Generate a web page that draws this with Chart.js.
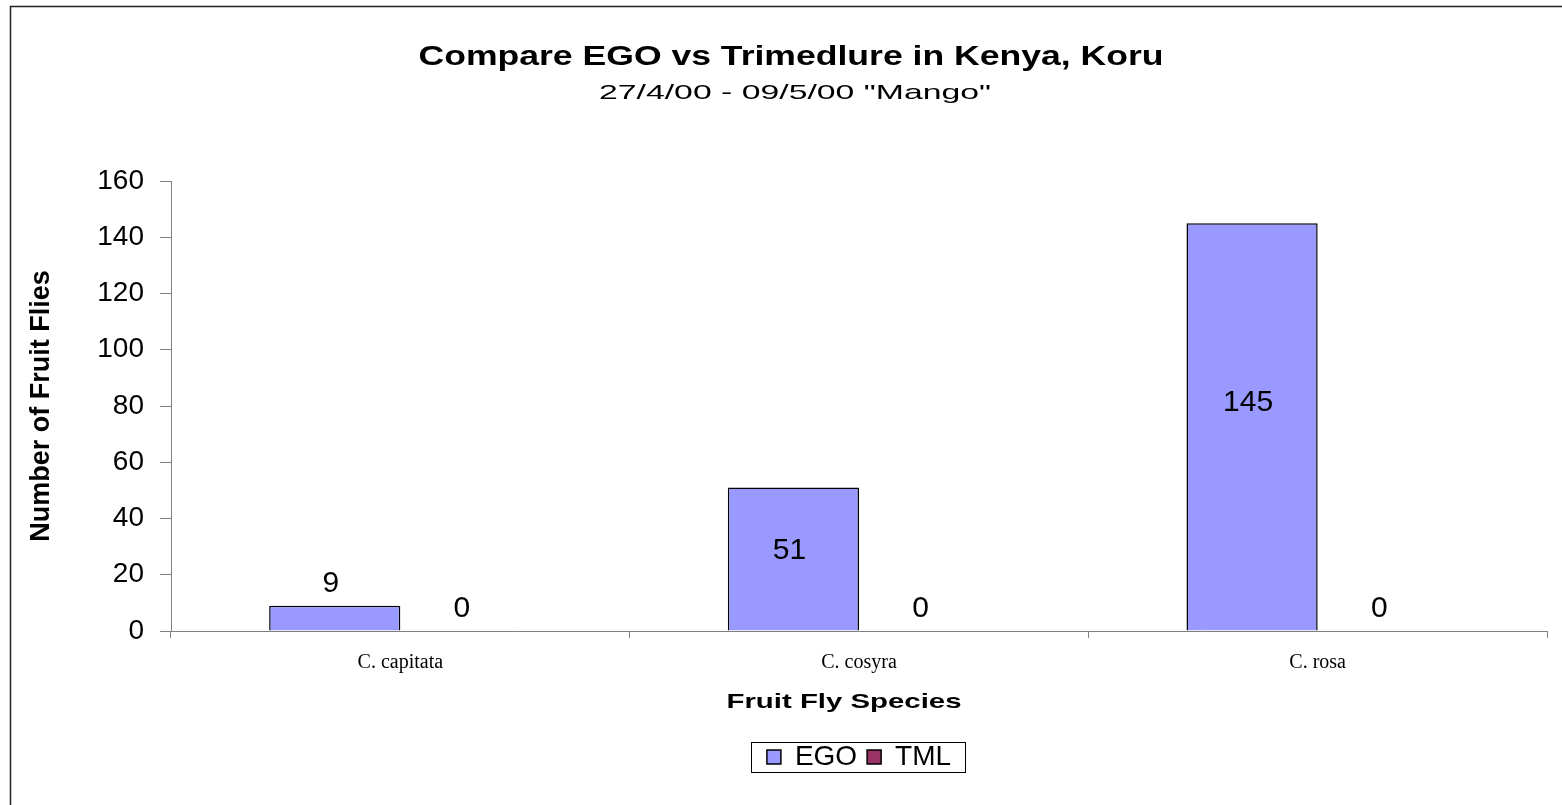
<!DOCTYPE html>
<html>
<head>
<meta charset="utf-8">
<title>Compare EGO vs Trimedlure in Kenya, Koru</title>
<script src="https://cdn.jsdelivr.net/npm/chart.js@4.4.0/dist/chart.umd.min.js"></script>
<style>
    html, body { margin: 0; padding: 0; background: #fff; }
    #wrap { width: 1562px; height: 805px; }
</style>
</head>
<body>
<div id="wrap"><canvas id="chart" width="1562" height="805"></canvas></div>
<script>
// species on the x axis
const species = ['C. capitata', 'C. cosyra', 'C. rosa'];
// catches per lure
const egoCounts = [9, 51, 145];
const tmlCounts = [0, 0, 0];
const yTicks = [0, 20, 40, 60, 80, 100, 120, 140, 160];

const titleText = 'Compare EGO vs Trimedlure in Kenya, Koru';
const subtitleText = '27/4/00 - 09/5/00 "Mango"';
const xTitleText = 'Fruit Fly Species';

const SANS = '"Liberation Sans", Arial, sans-serif';

// the old Excel export draws its headings wide, so stretch text to a given width
function drawWide(ctx, text, cx, baseline, font, width) {
    ctx.save();
    ctx.font = font;
    const w = ctx.measureText(text).width;
    ctx.translate(cx, baseline);
    ctx.scale(width / w, 1);
    ctx.textAlign = 'center';
    ctx.textBaseline = 'alphabetic';
    ctx.fillStyle = '#000';
    ctx.fillText(text, 0, 0);
    ctx.restore();
}

// white background and the frame round the chart (only top and left show)
const framePlugin = {
    id: 'frame',
    beforeDraw(chart) {
        const ctx = chart.ctx;
        ctx.save();
        ctx.fillStyle = '#fff';
        ctx.fillRect(0, 0, chart.width, chart.height);
        ctx.strokeStyle = '#222';
        ctx.lineWidth = 1.5;
        ctx.beginPath();
        ctx.moveTo(10.5, chart.height + 5);
        ctx.lineTo(10.5, 6.5);
        ctx.lineTo(chart.width + 5, 6.5);
        ctx.stroke();
        ctx.restore();
    }
};

// headings: title, subtitle and x axis title
const headingsPlugin = {
    id: 'headings',
    afterDraw(chart) {
        const ctx = chart.ctx;
        const x = chart.scales.x;
        drawWide(ctx, titleText, 791, 65, 'bold 27px ' + SANS, 745);
        drawWide(ctx, subtitleText, 795, 99, '21px ' + SANS, 392);
        drawWide(ctx, xTitleText, (x.left + x.right) / 2 - 15, 708, 'bold 21px ' + SANS, 235);
    }
};

// box round the legend, centred on the legend line
const legendBoxPlugin = {
    id: 'legendBox',
    afterDraw(chart) {
        const lg = chart.legend;
        if (!lg || !lg.legendHitBoxes.length) return;
        const hb = lg.legendHitBoxes;
        const left = hb[0].left - 16;
        const right = hb[hb.length - 1].left + hb[hb.length - 1].width + 14;
        const mid = hb[0].top + hb[0].height / 2;
        const ctx = chart.ctx;
        ctx.save();
        ctx.strokeStyle = '#000';
        ctx.lineWidth = 1;
        ctx.strokeRect(Math.round(left) + 0.5, Math.round(mid - 15) + 0.5, Math.round(right - left), 30);
        ctx.restore();
    }
};

// value labels: short bars get the number above, tall bars inside
const valueLabelPlugin = {
    id: 'valueLabels',
    afterDatasetsDraw(chart) {
        const ctx = chart.ctx;
        const y0 = chart.scales.y.getPixelForValue(0);
        ctx.save();
        ctx.font = '30px ' + SANS;
        ctx.fillStyle = '#000';
        ctx.textAlign = 'center';
        ctx.textBaseline = 'middle';
        chart.data.datasets.forEach((ds, i) => {
            chart.getDatasetMeta(i).data.forEach((bar, j) => {
                const h = y0 - bar.y;
                const y = h < 40 ? bar.y - 22 : bar.y + h * 0.44;
                ctx.fillText(String(ds.data[j]), bar.x - 4, y);
            });
        });
        ctx.restore();
    }
};

new Chart(document.getElementById('chart'), {
    type: 'bar',
    data: {
        labels: species,
        datasets: [{
            label: 'EGO',
            data: egoCounts,
            backgroundColor: '#9999FF',
            borderColor: '#000',
            borderWidth: 1.5
        }, {
            label: 'TML',
            data: tmlCounts,
            backgroundColor: '#993366',
            borderColor: '#000',
            borderWidth: 1.5
        }]
    },
    options: {
        responsive: false,
        animation: false,
        categoryPercentage: 0.572,
        barPercentage: 1.0,
        layout: {
            padding: { top: 181, left: 12, right: 15, bottom: 24 }
        },
        plugins: {
            title: { display: false },
            legend: {
                position: 'bottom',
                fullSize: false,
                labels: {
                    color: '#000',
                    font: { family: SANS, size: 28 },
                    boxWidth: 14,
                    boxHeight: 14,
                    padding: 10,
                    useBorderRadius: false
                }
            },
            tooltip: { enabled: false }
        },
        scales: {
            x: {
                grid: {
                    offset: true,
                    drawOnChartArea: false,
                    drawTicks: true,
                    tickLength: 7,
                    color: '#808080'
                },
                border: { color: '#808080', width: 1 },
                ticks: {
                    color: '#000',
                    font: { family: '"Liberation Serif", "Times New Roman", serif', size: 20 },
                    padding: 13
                },
                afterFit(scale) {
                    scale.height = 102;
                }
            },
            y: {
                min: 0,
                max: 160,
                afterBuildTicks(scale) {
                    scale.ticks = yTicks.map(v => ({ value: v }));
                },
                grid: {
                    drawOnChartArea: false,
                    drawTicks: true,
                    tickLength: 11,
                    color: '#808080'
                },
                border: { color: '#808080', width: 1 },
                ticks: {
                    color: '#000',
                    font: { family: SANS, size: 28 },
                    padding: 16
                },
                title: {
                    display: true,
                    text: 'Number of Fruit Flies',
                    color: '#000',
                    font: { family: SANS, size: 27, weight: 'bold' },
                    padding: { top: 13, bottom: 0 }
                },
                afterFit(scale) {
                    scale.width = 159;
                }
            }
        }
    },
    plugins: [framePlugin, headingsPlugin, legendBoxPlugin, valueLabelPlugin]
});
</script>
</body>
</html>
